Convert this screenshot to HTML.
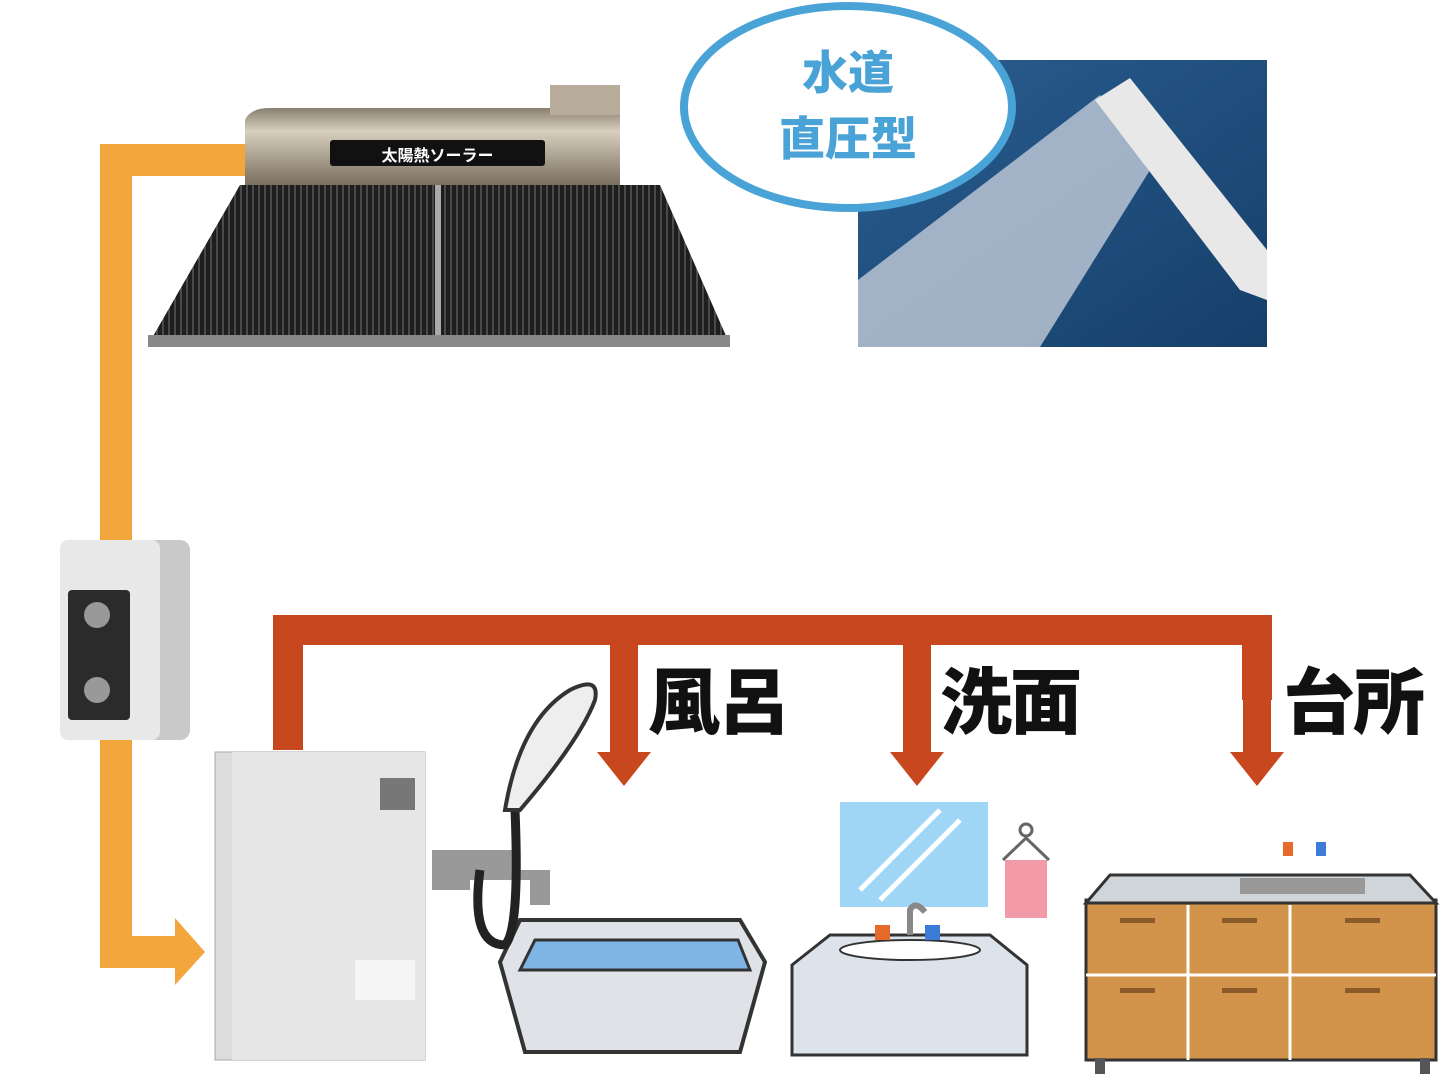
<!DOCTYPE html>
<html><head><meta charset="utf-8"><style>
body{margin:0;width:1440px;height:1076px;background:#fff;overflow:hidden;position:relative;font-family:"Liberation Sans","Noto Sans CJK JP",sans-serif}
.a{position:absolute}
.lbl{position:absolute;font-weight:900;font-size:72px;color:#111;letter-spacing:-2px;line-height:1}
</style></head><body>
<svg class="a" style="left:0;top:0" width="1440" height="1076">
<defs>
<linearGradient id="tank" x1="0" y1="0" x2="0" y2="1"><stop offset="0" stop-color="#8a8070"/><stop offset=".3" stop-color="#d8cfbf"/><stop offset="1" stop-color="#7a6f5e"/></linearGradient>
<linearGradient id="blue" x1="0" y1="0" x2="1" y2="1"><stop offset="0" stop-color="#2a5e90"/><stop offset="1" stop-color="#163f6a"/></linearGradient>
<pattern id="stripe" width="6" height="6" patternUnits="userSpaceOnUse"><rect width="6" height="6" fill="#1e1e1e"/><rect width="2" height="6" fill="#4a4a4a"/></pattern>
</defs>
<path d="M245 160 H116 V952 H180" fill="none" stroke="#f2a63c" stroke-width="32"/>
<polygon points="175,918 205,952 175,985" fill="#f2a63c"/>
<path d="M288 750 V630 H1257 V700" fill="none" stroke="#c9471e" stroke-width="30"/>
<g fill="#c9471e">
<rect x="610" y="630" width="28" height="125"/><polygon points="597,752 651,752 624,786"/>
<rect x="903" y="630" width="28" height="125"/><polygon points="890,752 944,752 917,786"/>
<rect x="1243" y="630" width="28" height="125"/><polygon points="1230,752 1284,752 1257,786"/>
</g>
<polygon points="240,185 660,185 730,345 148,345" fill="url(#stripe)"/>
<rect x="435" y="185" width="6" height="160" fill="#aaa"/>
<rect x="148" y="335" width="582" height="12" fill="#888"/>
<path d="M245 120 Q250 108 270 108 H620 V185 H245 Z" fill="url(#tank)"/>
<rect x="550" y="85" width="70" height="30" fill="#b8ad9a"/>
<rect x="330" y="140" width="215" height="26" rx="3" fill="#111"/>
<rect x="858" y="60" width="409" height="287" fill="url(#blue)"/>
<polygon points="1100,95 1150,170 1040,347 858,347 858,280" fill="#b9c4d3" opacity=".85"/>
<polygon points="1095,100 1130,78 1267,250 1267,300 1240,290" fill="#e8e8e8"/>
<ellipse cx="848" cy="107" rx="164" ry="101" fill="#fff" stroke="#4aa3d6" stroke-width="8"/>
<rect x="60" y="540" width="130" height="200" rx="10" fill="#c9c9c9"/>
<rect x="60" y="540" width="100" height="200" rx="8" fill="#e8e8e8"/>
<rect x="68" y="590" width="62" height="130" rx="4" fill="#2b2b2b"/>
<circle cx="97" cy="615" r="13" fill="#999"/><circle cx="97" cy="690" r="13" fill="#999"/>
<rect x="215" y="752" width="210" height="308" fill="#dcdcdc" stroke="#aaa"/>
<rect x="232" y="752" width="193" height="308" fill="#e6e6e6"/>
<rect x="380" y="778" width="35" height="32" fill="#777"/>
<rect x="355" y="960" width="60" height="40" fill="#f5f5f5"/>
<path d="M500 962 L520 920 H740 L765 962 L740 1052 H525 Z" fill="#dfe3e8" stroke="#333" stroke-width="4"/>
<path d="M520 970 L535 940 H738 L750 970 Z" fill="#7fb4e6" stroke="#333" stroke-width="3"/>
<path d="M432 850 H520 V870 H550 V905 H530 V880 H470 V890 H432 Z" fill="#999"/>
<path d="M480 870 Q470 945 505 945 Q520 930 515 810" fill="none" stroke="#222" stroke-width="9"/>
<path d="M505 810 Q520 720 570 690 Q600 675 595 700 Q580 740 520 810 Z" fill="#eee" stroke="#333" stroke-width="4"/>
<rect x="840" y="802" width="148" height="105" fill="#9fd6f5"/>
<path d="M860 890 L940 810 M880 900 L960 820" stroke="#fff" stroke-width="5"/>
<path d="M792 965 L830 935 H990 L1027 965 V1055 H792 Z" fill="#dde3ea" stroke="#333" stroke-width="3"/>
<ellipse cx="910" cy="950" rx="70" ry="10" fill="#fff" stroke="#333" stroke-width="2"/>
<rect x="875" y="925" width="15" height="15" fill="#e66b2a"/><rect x="925" y="925" width="15" height="15" fill="#3c7bd8"/>
<path d="M910 935 V910 Q915 900 925 912" fill="none" stroke="#888" stroke-width="6"/>
<rect x="1005" y="860" width="42" height="58" fill="#f29aa8"/>
<path d="M1003 860 L1026 838 L1049 860" fill="none" stroke="#666" stroke-width="3"/><circle cx="1026" cy="830" r="6" fill="none" stroke="#666" stroke-width="3"/>
<rect x="1086" y="900" width="350" height="160" fill="#d2944a" stroke="#333" stroke-width="3"/>
<path d="M1086 903 L1110 875 H1410 L1436 903 Z" fill="#d0d5da" stroke="#333" stroke-width="3"/>
<path d="M1188 905 V1060 M1290 905 V1060 M1086 975 H1436" stroke="#fff" stroke-width="3"/>
<g fill="#8a5a2a"><rect x="1120" y="918" width="35" height="5"/><rect x="1222" y="918" width="35" height="5"/><rect x="1345" y="918" width="35" height="5"/><rect x="1120" y="988" width="35" height="5"/><rect x="1222" y="988" width="35" height="5"/><rect x="1345" y="988" width="35" height="5"/></g>
<rect x="1240" y="878" width="125" height="16" fill="#999"/>
<rect x="1283" y="842" width="10" height="14" fill="#e66b2a"/><rect x="1316" y="842" width="10" height="14" fill="#3c7bd8"/>
<rect x="1095" y="1058" width="10" height="16" fill="#555"/><rect x="1420" y="1058" width="10" height="16" fill="#555"/>
</svg>
<div class="a" style="left:330px;top:142px;width:215px;text-align:center;color:#fff;font-size:16px;font-weight:bold">太陽熱ソーラー</div>
<div class="a" style="left:748px;top:40px;width:200px;text-align:center;color:#4aa3d6;font-size:46px;font-weight:900;line-height:66px">水道<br>直圧型</div>
<div class="lbl" style="left:648px;top:668px">風呂</div>
<div class="lbl" style="left:940px;top:668px">洗面</div>
<div class="lbl" style="left:1283px;top:668px">台所</div>
</body></html>
